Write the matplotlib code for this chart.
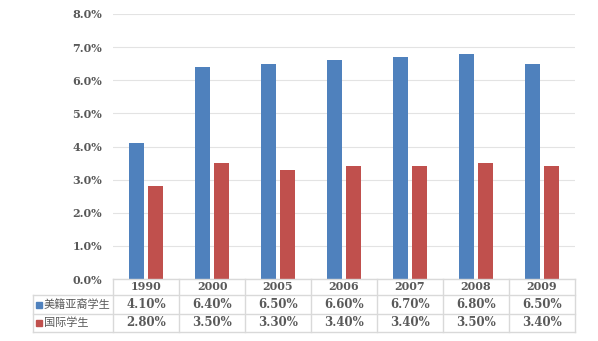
import matplotlib.pyplot as plt
import numpy as np

plt.rcParams['font.family'] = ['DejaVu Serif', 'Noto Sans CJK SC']

years = ['1990', '2000', '2005', '2006', '2007', '2008', '2009']
asian = [4.1, 6.4, 6.5, 6.6, 6.7, 6.8, 6.5]
intl = [2.8, 3.5, 3.3, 3.4, 3.4, 3.5, 3.4]
names = ['美籍亚裔学生', '国际学生']
colors = ['#4F81BD', '#C0504D']
grey = '#595959'
linec = '#D9D9D9'

W, H = 598, 341
fig = plt.figure(figsize=(W / 100, H / 100), dpi=100)
L, R, T, B = 113, 575, 14, 279
ax = fig.add_axes([L / W, 1 - B / H, (R - L) / W, (B - T) / H])

x = np.arange(len(years))
bw = 0.23
ax.bar(x - 0.03 - bw / 2, asian, bw, color=colors[0], zorder=3)
ax.bar(x + 0.03 + bw / 2, intl, bw, color=colors[1], zorder=3)

ax.set_xlim(-0.5, len(years) - 0.5)
ax.set_ylim(0, 8)
ax.set_yticks(range(9))
ax.set_yticklabels(['%.1f%%' % v for v in range(9)], color=grey,
                   fontsize=8, fontweight='bold')
ax.set_xticks([])
ax.tick_params(axis='y', length=0, pad=8)
ax.grid(axis='y', color='#E3E3E3', lw=0.8, zorder=0)
for s in ax.spines.values():
    s.set_visible(False)

# table below the plot, in pixel coords of figure
def fx(px):
    return px / W

def fy(py):
    return 1 - py / H

rows_y = [279, 295, 313.5, 332]
left_edge = 33
colw = (R - L) / len(years)
fig.add_artist(plt.Line2D([fx(L), fx(R)], [fy(279)] * 2, color=linec, lw=1))
for yy in rows_y[1:]:
    fig.add_artist(plt.Line2D([fx(left_edge), fx(R)], [fy(yy)] * 2, color=linec, lw=1))
fig.add_artist(plt.Line2D([fx(left_edge)] * 2, [fy(295), fy(332)], color=linec, lw=1))
for k in range(len(years) + 1):
    xx = L + k * colw
    fig.add_artist(plt.Line2D([fx(xx)] * 2, [fy(279), fy(332)], color=linec, lw=1))

txt = dict(color=grey, fontweight='bold', ha='center', va='center')
for k, yr in enumerate(years):
    cx = L + (k + 0.5) * colw
    fig.text(fx(cx), fy(287), yr, fontsize=8, **txt)
    fig.text(fx(cx), fy(304.5), '%.2f%%' % asian[k], fontsize=8.5, **txt)
    fig.text(fx(cx), fy(323), '%.2f%%' % intl[k], fontsize=8.5, **txt)

for i, (nm, c) in enumerate(zip(names, colors)):
    yy = [304.5, 323][i]
    fig.add_artist(plt.Rectangle((fx(36), fy(yy + 3)), 6 / W, 6 / H,
                                 color=c, transform=fig.transFigure))
    fig.text(fx(44), fy(yy), nm, color=grey, fontsize=8, ha='left', va='center',
             family=['Noto Sans CJK SC'])

fig.savefig('out.png', dpi=100)
